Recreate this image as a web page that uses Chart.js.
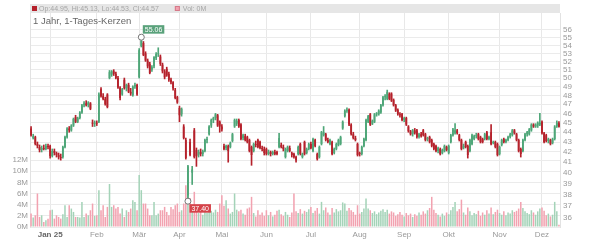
<!DOCTYPE html>
<html><head><meta charset="utf-8">
<script src="https://cdn.jsdelivr.net/npm/chart.js@4/dist/chart.umd.min.js"></script>
<style>html,body{margin:0;padding:0;background:#fff}#wrap{width:600px;height:240px}</style>
</head><body><div id="wrap"><canvas id="c" width="600" height="240"></canvas></div>
<script>
const titleText = '1 Jahr, 1-Tages-Kerzen';
const monthLabels = ['Jan 25','Feb','Mär','Apr','Mai','Jun','Jul','Aug','Sep','Okt','Nov','Dez'];
const monthStart = [9,31,51,70,90,111,132,155,176,197,221,241];
const priceTicks = [36,37,38,39,40,41,42,43,44,45,46,47,48,49,50,51,52,53,54,55,56];
const volTicks = [0,2,4,6,8,10,12];

const opens = [
44.4,43.4,43.5,42.8,42.5,42.2,42.4,42.3,42.6,42.6,
41.6,42.1,41.9,41.7,41.5,41.5,42.5,43.5,44.4,44.2,
44.7,45.6,45.1,45.5,46.1,46.9,47.1,46.9,47.1,45.0,
44.9,45.0,45.1,48.7,47.9,47.6,48.1,50.0,50.4,50.8,
50.5,50.0,48.9,48.1,49.8,48.8,49.2,48.4,48.0,49.0,
49.2,50.1,53.9,54.3,53.0,52.1,51.7,51.0,51.4,52.4,
52.9,52.6,51.6,50.8,51.1,50.5,49.8,49.5,48.6,47.8,46.6,
45.9,44.6,43.2,37.9,43.0,40.0,44.2,42.2,41.7,42.0,
41.8,42.1,43.2,43.8,44.7,45.3,45.5,45.8,45.1,44.6,
42.6,42.4,42.6,42.5,43.1,44.6,44.9,45.3,44.8,43.4,
43.6,43.5,43.2,42.5,42.1,42.8,43.2,43.0,42.4,
42.3,42.3,41.8,42.0,41.8,42.0,42.0,42.5,42.7,42.5,
41.5,42.1,42.4,41.9,41.8,41.5,41.8,42.8,41.5,43.0,
41.9,42.3,42.8,42.1,43.2,41.8,41.5,42.8,43.7,43.8,
43.2,42.8,43.0,41.9,42.3,42.7,42.8,44.4,45.7,46.3,
46.4,44.8,43.8,43.4,42.8,41.9,41.8,42.6,43.2,45.1,
45.9,44.9,45.1,45.9,45.9,46.1,46.9,47.8,47.6,48.2,
48.2,47.5,46.9,46.4,45.9,45.9,45.3,45.5,44.6,44.1,
43.8,44.2,44.2,43.5,43.8,44.2,43.8,43.3,43.5,43.2,
42.8,42.6,42.1,42.3,41.9,42.1,42.5,41.9,43.0,43.7,
43.9,44.2,43.7,43.2,42.4,43.0,42.6,42.1,42.8,43.3,
43.6,43.8,43.5,43.3,43.3,44.0,43.3,44.0,42.9,43.0,
42.8,41.8,42.7,43.3,43.0,43.2,43.5,43.7,44.2,43.8,
43.2,42.3,42.1,43.2,43.8,43.8,44.2,44.8,44.6,44.7,
44.8,45.1,43.9,43.7,43.1,43.2,42.9,43.3,44.6,44.95];

const highs = [
44.6,43.8,43.6,43.0,42.7,42.6,42.7,42.8,42.8,42.7,
42.3,42.3,42.0,41.9,41.8,42.6,43.6,44.5,44.6,44.8,
45.5,45.8,45.6,46.2,47.0,47.3,47.4,47.3,47.2,45.3,
45.2,45.2,48.3,48.9,48.2,47.8,48.2,50.9,50.9,51.0,
50.7,50.2,49.0,48.8,50.0,49.3,49.4,48.8,49.1,49.4,
49.3,53.6,55.06,54.5,53.2,52.3,51.9,51.5,52.6,53.1,
53.7,52.8,51.8,51.0,51.3,50.7,50.0,49.6,48.8,47.9,46.8,
46.6,44.8,43.4,40.7,43.3,40.6,44.4,42.4,42.2,42.3,
42.2,43.3,43.5,44.7,45.4,45.6,46.0,45.9,45.2,44.8,
42.8,42.7,42.7,43.0,43.9,45.4,45.4,45.4,44.9,43.8,
43.8,43.6,43.3,42.6,42.9,43.1,43.3,43.1,42.6,
42.5,42.4,42.2,42.1,42.1,42.2,42.1,43.9,42.9,42.7,
42.4,42.6,42.6,42.0,41.9,41.6,42.6,42.9,41.9,43.1,
42.4,42.9,43.0,43.4,43.3,41.9,42.6,44.1,44.6,43.9,
43.4,43.3,43.1,42.4,42.9,43.3,43.6,45.2,46.4,46.6,
46.5,44.9,44.0,43.6,42.9,42.0,42.6,43.4,45.4,45.8,
46.0,45.3,46.0,46.1,46.4,47.0,47.9,48.1,48.6,48.3,
48.3,47.6,47.0,46.5,46.1,46.0,45.6,45.6,44.7,44.2,
44.3,44.4,44.3,43.9,44.0,44.3,43.9,43.5,43.6,43.3,
42.9,42.7,42.5,42.4,42.3,42.7,42.6,42.7,43.8,44.4,
44.9,44.3,43.8,43.3,42.8,43.1,42.7,43.3,43.8,43.7,
43.9,43.9,43.6,43.4,43.9,44.1,43.6,44.8,43.1,43.1,
42.9,42.6,43.3,43.4,43.3,43.6,43.9,44.3,44.3,43.9,
43.3,42.4,43.3,43.9,44.1,44.4,44.9,44.9,44.9,45.1,
46.0,45.2,44.0,43.8,43.4,43.3,43.4,44.7,45.2,45.13];

const lows = [
43.6,43.3,42.7,42.4,42.0,42.0,42.2,42.2,42.3,41.4,
41.5,41.7,41.5,41.3,41.2,41.4,42.4,43.4,44.0,44.1,
44.6,45.0,45.0,45.4,46.0,46.7,46.8,46.7,46.4,44.6,
44.6,44.7,45.0,47.8,47.5,46.9,46.6,49.9,50.2,50.3,
49.9,48.8,47.5,48.0,48.7,48.5,48.3,48.0,47.9,48.8,
48.0,50.0,53.8,52.7,52.0,51.2,50.5,50.8,51.2,52.2,
52.6,51.5,50.6,49.9,50.2,49.6,49.3,48.6,47.6,47.1,45.1,
45.7,43.3,41.3,37.40,41.6,38.9,41.4,40.6,41.5,41.6,
41.6,42.0,42.9,43.7,44.5,45.0,45.3,44.6,44.0,44.1,
42.2,42.2,41.0,42.4,43.0,44.5,44.7,44.5,43.2,43.2,
43.1,42.9,42.0,40.7,42.0,42.5,42.4,42.3,42.1,
41.7,41.7,41.7,41.6,41.7,41.7,41.7,42.4,42.4,42.1,
41.4,42.0,42.0,41.5,41.4,41.0,41.7,41.7,41.4,41.7,
41.8,42.2,42.3,42.0,42.5,41.2,41.4,42.7,43.6,43.1,
42.9,42.7,41.7,41.8,42.2,42.6,42.7,44.3,45.6,46.1,
44.7,43.7,43.3,43.1,41.6,41.6,41.7,42.5,43.1,45.0,
44.7,44.8,45.0,45.7,45.8,46.0,46.8,47.5,47.5,47.5,
47.3,46.8,46.2,45.8,45.6,45.2,45.1,44.7,44.0,43.7,
43.6,43.8,43.4,43.4,43.5,43.6,43.1,43.1,42.9,42.5,
42.2,42.0,41.9,41.7,41.8,42.0,42.1,41.8,42.9,43.6,
43.8,43.8,43.1,42.2,42.3,42.4,41.4,42.0,42.7,43.2,
43.4,43.2,42.9,42.9,43.2,43.2,43.2,42.7,42.8,42.4,
41.6,41.7,42.6,42.9,42.9,43.1,43.4,43.6,43.8,43.1,
42.0,41.5,42.0,43.1,43.6,43.7,44.1,44.5,44.5,44.5,
44.7,43.8,42.9,43.0,42.9,42.7,42.8,43.2,44.5,44.53];

const closes = [
43.7,43.6,42.8,42.6,42.2,42.4,42.3,42.6,42.5,41.6,
42.1,41.9,41.7,41.5,41.4,42.5,43.5,44.4,44.2,44.7,
45.4,45.1,45.5,46.1,46.9,47.1,46.9,47.2,46.5,44.9,
45.0,44.9,48.1,47.9,47.6,47.0,46.7,50.7,50.8,50.5,
50.0,48.9,47.7,48.7,48.8,49.2,48.4,48.2,49.0,49.2,
48.1,53.4,54.6,52.8,52.1,51.4,50.6,51.3,52.5,52.9,
53.0,51.7,50.8,50.1,50.3,49.8,49.5,48.8,47.7,47.2,45.8,
46.5,43.4,41.4,40.6,41.7,40.3,41.5,41.6,42.0,41.8,
42.1,43.2,43.3,44.6,45.3,45.5,45.9,44.7,44.6,44.3,
42.3,42.6,42.1,42.9,43.8,45.3,45.2,44.6,43.3,43.7,
43.2,43.0,42.1,41.7,42.8,42.7,42.5,42.4,42.3,
41.9,41.8,42.0,41.8,42.0,41.8,41.8,43.4,42.5,42.3,
42.3,42.5,42.1,41.7,41.5,41.2,42.5,41.8,41.8,41.8,
42.3,42.8,42.4,43.3,42.6,41.3,42.5,44.0,44.0,43.2,
43.0,43.2,41.8,42.3,42.8,43.2,43.5,45.1,46.3,46.4,
44.8,43.8,43.4,43.2,41.7,41.8,42.5,43.3,45.3,45.7,
44.8,45.2,45.9,46.0,46.3,46.9,47.8,47.9,48.4,47.6,
47.4,46.9,46.3,45.9,45.8,45.3,45.5,44.8,44.1,43.8,
44.2,43.9,43.5,43.8,43.6,43.7,43.2,43.4,43.0,42.6,
42.3,42.1,42.4,41.8,42.2,42.6,42.2,42.6,43.7,44.3,
44.2,43.9,43.2,42.3,42.6,42.5,41.7,43.2,43.7,43.6,
43.7,43.3,43.0,43.0,43.8,43.3,43.5,42.8,43.0,42.5,
41.7,42.5,43.2,43.0,43.2,43.5,43.8,44.2,43.9,43.2,
42.1,41.8,43.2,43.8,44.0,44.3,44.8,44.6,44.8,45.0,
45.0,43.9,43.0,43.1,43.3,42.8,43.3,44.6,45.0,44.57];

const volumes = [
2.4,1.7,2.1,6.0,1.8,2.1,0.9,1.2,1.5,3.0,
3.1,1.5,2.1,1.8,1.5,2.3,3.9,1.8,3.9,3.3,
2.7,1.8,1.8,1.7,4.5,1.8,2.4,2.1,3.0,4.2,
2.0,2.1,6.6,3.0,3.9,1.8,3.6,7.7,3.6,3.9,
3.3,3.6,2.4,3.3,1.8,3.0,2.7,3.3,4.8,4.5,
3.0,9.3,6.6,4.2,4.2,3.3,2.1,2.1,4.5,2.1,
2.4,3.0,3.0,3.6,2.7,2.1,3.6,3.2,3.9,4.2,2.7,
3.0,4.2,7.5,8.0,5.2,3.9,6.3,3.6,2.5,2.8,
2.2,3.1,2.6,3.3,2.9,2.6,3.1,2.7,4.2,5.7,
3.8,4.8,3.3,2.4,2.7,6.0,3.1,2.8,3.1,2.4,
2.2,3.3,3.5,5.4,2.5,1.9,3.0,2.2,2.6,
2.0,3.0,2.1,2.7,1.9,2.2,2.9,3.1,2.3,2.0,
2.7,2.2,1.8,2.6,6.0,2.8,2.5,3.2,2.4,2.9,
2.7,3.2,3.6,2.5,2.9,3.4,2.4,4.5,3.0,3.5,
2.6,2.2,3.4,2.6,3.2,2.8,3.0,4.4,4.2,2.9,
3.4,3.0,2.7,2.2,3.9,2.4,2.7,3.3,5.1,3.3,
3.0,2.5,2.8,2.3,2.6,2.9,3.2,2.7,3.1,2.4,
2.8,2.6,2.0,2.3,2.7,2.2,1.9,2.5,2.1,2.4,
1.8,2.3,2.0,2.6,2.2,2.8,2.4,3.0,3.4,5.4,
3.1,2.5,2.2,1.9,2.4,2.0,2.6,2.3,3.0,3.6,
4.5,2.8,3.2,4.9,2.6,2.2,3.5,2.8,2.1,2.5,
2.3,2.9,2.0,2.6,2.2,3.0,2.4,3.5,2.3,2.7,
3.1,2.5,2.2,2.8,2.1,2.6,2.4,3.0,2.7,2.9,
3.3,4.5,3.4,2.8,2.5,2.3,3.0,2.6,2.2,2.8,
3.3,3.5,2.9,2.1,2.4,1.9,2.2,4.5,2.8,0.4];

const UP = '#4ea678', DOWN = '#b5212b', VUP = '#a4d3b8', VDOWN = '#f2a2b0';
const n = closes.length;
const days = Array.from({length: n}, (_, i) => i);
const isUp = closes.map((c, i) => c >= opens[i]);
const FONT = '"Liberation Sans", Arial, sans-serif';

const overlay = {
  id: 'overlay',
  afterDraw(chart) {
    const {ctx, chartArea: a, scales} = chart;
    ctx.save();
    ctx.fillStyle = '#e6e6e6';
    ctx.fillRect(a.left, 4, a.right - a.left, 9);
    const L = n - 1;
    ctx.fillStyle = isUp[L] ? UP : DOWN;
    ctx.fillRect(32, 6, 5, 5);
    ctx.font = '7px ' + FONT;
    ctx.fillStyle = '#a5a5a5';
    ctx.textBaseline = 'middle';
    ctx.textAlign = 'left';
    const t1 = 'Op:' + opens[L].toFixed(2) + ', Hi:' + highs[L].toFixed(2) + ', Lo:' + lows[L].toFixed(2) + ', Cl:' + closes[L].toFixed(2);
    ctx.fillText(t1, 39, 9);
    const vx = 39 + ctx.measureText(t1).width + 16;
    ctx.fillStyle = VDOWN; ctx.fillRect(vx, 6, 5, 5);
    ctx.strokeStyle = '#d57a8a'; ctx.lineWidth = 1; ctx.strokeRect(vx + 0.5, 6.5, 4, 4);
    ctx.fillStyle = '#a5a5a5';
    ctx.fillText('Vol: ' + Math.round(volumes[L]) + 'M', vx + 8, 9);
    ctx.font = '9.5px ' + FONT;
    ctx.fillStyle = '#666';
    ctx.fillText(titleText, 33, 21.5);
    const xs = scales.x, ps = scales.price;
    const hiMax = Math.max(...highs), iMax = highs.indexOf(hiMax);
    const loMin = Math.min(...lows), iMin = lows.indexOf(loMin);
    function marker(i, v, above, col) {
      const cx = xs.getPixelForValue(i), cy = ps.getPixelForValue(v);
      ctx.font = '7px ' + FONT;
      const txt = v.toFixed(2);
      const w = ctx.measureText(txt).width + 4, h = 8.5;
      const bx = cx + 1.5, by = above ? cy - 12 : cy + 3;
      ctx.fillStyle = col; ctx.fillRect(bx, by, w, h);
      ctx.fillStyle = '#fff'; ctx.textAlign = 'center';
      ctx.fillText(txt, bx + w / 2, by + h / 2 + 0.5);
      ctx.beginPath(); ctx.arc(cx, cy, 3, 0, Math.PI * 2);
      ctx.fillStyle = '#fff'; ctx.fill();
      ctx.strokeStyle = '#777'; ctx.lineWidth = 1; ctx.stroke();
    }
    marker(iMax, hiMax, true, '#5aa27b');
    marker(iMin, loMin, false, '#d5434a');
    ctx.restore();
  }
};

new Chart(document.getElementById('c').getContext('2d'), {
  type: 'bar',
  data: {
    labels: days,
    datasets: [
      {label: 'Vol', data: volumes, yAxisID: 'vol', backgroundColor: isUp.map(u => u ? VUP : VDOWN),
       barPercentage: 0.72, categoryPercentage: 1, order: 3, grouped: false},
      {label: 'Docht', data: lows.map((l, i) => [l, highs[i]]), yAxisID: 'price',
       backgroundColor: isUp.map(u => u ? UP : DOWN), barThickness: 1, order: 2, grouped: false},
      {label: 'Kerze', data: opens.map((o, i) => [Math.min(o, closes[i]), Math.max(o, closes[i])]), yAxisID: 'price',
       backgroundColor: isUp.map(u => u ? UP : DOWN), barPercentage: 0.85, categoryPercentage: 1, order: 1, grouped: false}
    ]
  },
  options: {
    responsive: false, animation: false, devicePixelRatio: 1,
    layout: {padding: {top: 13, left: 0, right: 0, bottom: 0}},
    plugins: {legend: {display: false}, tooltip: {enabled: false}},
    scales: {
      x: {
        type: 'category', offset: true,
        grid: {offset: false, drawTicks: false, color: c => monthStart.includes(c.index) ? '#e8e8e8' : 'rgba(0,0,0,0)'},
        border: {display: false},
        ticks: {autoSkip: false, maxRotation: 0, minRotation: 0, padding: 3,
          color: c => c.index === monthStart[0] ? '#666' : '#999',
          font: c => ({size: 8, family: FONT, weight: c.index === monthStart[0] ? 'bold' : 'normal'}),
          callback: (v, i) => { const k = monthStart.indexOf(i); return k >= 0 ? monthLabels[k] : ''; }},
        afterFit: s => { s.height = 13; }
      },
      price: {
        type: 'logarithmic', position: 'right', min: 35.19, max: 58.29,
        afterBuildTicks: s => { s.ticks = priceTicks.map(v => ({value: v})); },
        grid: {drawTicks: false, color: c => (c.tick && c.tick.value >= 42) ? '#ebebeb' : 'rgba(0,0,0,0)'},
        border: {display: true, color: '#e2e2e2'},
        ticks: {autoSkip: false, padding: 3, color: '#999', font: {size: 8, family: FONT}, callback: v => String(v)},
        afterFit: s => { s.width = 40; }
      },
      vol: {
        type: 'linear', position: 'left', min: 0, max: 38.33,
        afterBuildTicks: s => { s.ticks = volTicks.map(v => ({value: v})); },
        grid: {drawTicks: false, color: '#ebebeb'},
        border: {display: true, color: '#e2e2e2'},
        ticks: {autoSkip: false, padding: 2, color: '#999', font: {size: 8, family: FONT}, callback: v => v + 'M'},
        afterFit: s => { s.width = 30; }
      }
    }
  },
  plugins: [overlay]
});
</script>
</body></html>
